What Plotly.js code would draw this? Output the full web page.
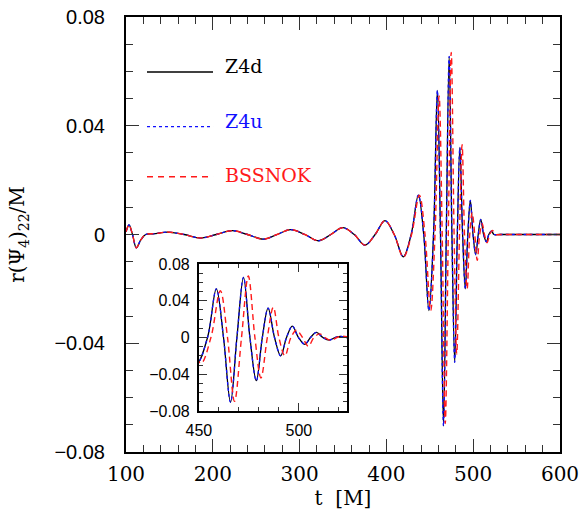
<!DOCTYPE html>
<html><head><meta charset="utf-8">
<script src="https://cdn.plot.ly/plotly-3.0.1.min.js"></script>
<style>body{margin:0;background:#fff}#chart{width:581px;height:514px}</style>
</head><body><div id="chart"></div>
<script>
// Z4d (and Z4u, which overlaps it) : time [M] and r(Psi4)_22/M
const tZ4d = [100,103.5,107.5,111.9,117,122.7,134,147.6,167,186,204,222.5,240,258.2,274,289.7,306,321.5,336,349.6,363,375.3,387,398.4,409,419.5,428.5,436.8,443,449,454.3,458.7,462.3,465.8,469,472.3,475.5,478.7,481.7,484.6,487.8,490.9,493.8,496.7,499.8,502.9,505.8,508.7,512,515.3,518,521,524,530,600];
const vZ4d = [0.001,0.0035,0,-0.0049,-0.002,0,0.0003,0.0009,0,-0.0013,0,0.0014,0,-0.0017,0,0.0018,0,-0.0023,0,0.0025,0,-0.0039,0,0.0051,0,-0.0082,0,0.0145,0,-0.028,0,0.053,0,-0.0705,0,0.0655,0,-0.047,0,0.032,0,-0.020,0,0.0125,0,-0.0074,0,0.0056,0,-0.0027,0,0.0012,0,0,0];
const tZ4u = tZ4d.slice();
const vZ4u = vZ4d.slice();
// BSSNOK
const tBSS = [100,103.5,107.5,111.9,117,122.7,134,147.6,167,186,204,222.5,240,258.2,274,289.7,306,321.5,336,349.6,363,375.3,387,398.4,409,419.5,429,438,444.5,451,456,460.7,464.3,467.8,471.3,474.7,478,481,484.2,487.2,490,493,496,498.8,501.8,504.7,507.5,510.4,513,516,519,522,526,532,600];
const vBSS = [0.001,0.0035,0,-0.0049,-0.002,0,0.0003,0.0009,0,-0.0013,0,0.0014,0,-0.0017,0,0.0018,0,-0.0023,0,0.0025,0,-0.0039,0,0.0051,0,-0.0083,0,0.0145,0,-0.028,0,0.051,0,-0.0695,0,0.067,0,-0.044,0,0.033,0,-0.020,0,0.008,0,-0.0095,0,0.004,0,-0.003,0,0.0015,0,0,0];
const seriesNames = ['Z4d','Z4u','BSSNOK'];
const xTicksMain = [100,200,300,400,500,600];
const yTicks = [-0.08,-0.04,0,0.04,0.08];
const xTicksInset = [450,500];

function tr(x,y,color,dash,w,xa,ya,name){
  return {x:x,y:y,type:'scatter',mode:'lines',name:name,showlegend:false,
    xaxis:xa,yaxis:ya,line:{color:color,dash:dash,width:w,shape:'spline',smoothing:1}};
}
const data = [
  tr(tZ4d,vZ4d,'#000','solid',1.3,'x','y',seriesNames[0]),
  tr(tZ4u,vZ4u,'#1010ff','dot',1.3,'x','y',seriesNames[1]),
  tr(tBSS,vBSS,'#ff1a1a','6px,4px',1.4,'x','y',seriesNames[2]),
  tr(tZ4d,vZ4d,'#000','solid',1.3,'x2','y2',seriesNames[0]),
  tr(tZ4u,vZ4u,'#1010ff','dot',1.3,'x2','y2',seriesNames[1]),
  tr(tBSS,vBSS,'#ff1a1a','6px,4px',1.4,'x2','y2',seriesNames[2])
];
const ax = {showline:true,linewidth:2,linecolor:'#000',mirror:'allticks',ticks:'inside',
  showgrid:false,zeroline:false,tickcolor:'#333',tickwidth:1};
const layout = {
  width:581,height:514,margin:{l:126,r:21,t:17,b:62},
  paper_bgcolor:'#fff',plot_bgcolor:'#fff',showlegend:false,
  xaxis:Object.assign({},ax,{domain:[0,1],range:[100,600],tickvals:xTicksMain,ticklen:13,
    minor:{dtick:20,ticklen:7,ticks:'inside',tickcolor:'#333'},
    tickfont:{family:'DejaVu Serif',size:20,color:'#000'},ticklabelstandoff:3,
    title:{text:'t  [M]',font:{family:'DejaVu Serif',size:20,color:'#000'},standoff:3}}),
  yaxis:Object.assign({},ax,{domain:[0,1],range:[-0.08,0.08],tickvals:yTicks,ticklen:13,
    minor:{dtick:0.01,ticklen:7,ticks:'inside',tickcolor:'#333'},
    tickfont:{family:'Liberation Sans',size:20,color:'#000'},ticklabelstandoff:15,
    title:{text:'r(Ψ<sub>4</sub>)<sub>22</sub>/M',font:{family:'DejaVu Serif',size:20,color:'#000'},standoff:24}}),
  xaxis2:Object.assign({},ax,{domain:[0.168,0.509],anchor:'y2',range:[450,524],tickvals:xTicksInset,ticklen:8,
    minor:{dtick:10,ticklen:4,ticks:'inside',tickcolor:'#333'},
    tickfont:{family:'Liberation Sans',size:16,color:'#000'},ticklabelstandoff:4}),
  yaxis2:Object.assign({},ax,{domain:[0.0943,0.432],anchor:'x2',range:[-0.08,0.08],tickvals:yTicks,ticklen:8,
    minor:{dtick:0.01,ticklen:4,ticks:'inside',tickcolor:'#333'},
    tickfont:{family:'Liberation Sans',size:16,color:'#000'},ticklabelstandoff:4}),
  shapes:[
    {type:'line',xref:'paper',yref:'paper',x0:0.0484,x1:0.2005,y0:0.8736,y1:0.8736,line:{color:'#000',width:1.3}},
    {type:'line',xref:'paper',yref:'paper',x0:0.0484,x1:0.2005,y0:0.7478,y1:0.7478,line:{color:'#1010ff',width:1.3,dash:'dot'}},
    {type:'line',xref:'paper',yref:'paper',x0:0.0484,x1:0.2005,y0:0.6329,y1:0.6329,line:{color:'#ff1a1a',width:1.4,dash:'6px,5px'}}
  ],
  annotations:[
    {xref:'paper',yref:'paper',x:0.2235,y:0.8874,xanchor:'left',yanchor:'middle',showarrow:false,text:seriesNames[0],font:{family:'DejaVu Serif',size:19,color:'#000'}},
    {xref:'paper',yref:'paper',x:0.2235,y:0.7598,xanchor:'left',yanchor:'middle',showarrow:false,text:seriesNames[1],font:{family:'DejaVu Serif',size:19,color:'#1010ff'}},
    {xref:'paper',yref:'paper',x:0.2235,y:0.6379,xanchor:'left',yanchor:'middle',showarrow:false,text:seriesNames[2],font:{family:'DejaVu Serif',size:19,color:'#ff1a1a'}}
  ]
};
Plotly.newPlot('chart',data,layout,{displayModeBar:false,staticPlot:true});
</script></body></html>
